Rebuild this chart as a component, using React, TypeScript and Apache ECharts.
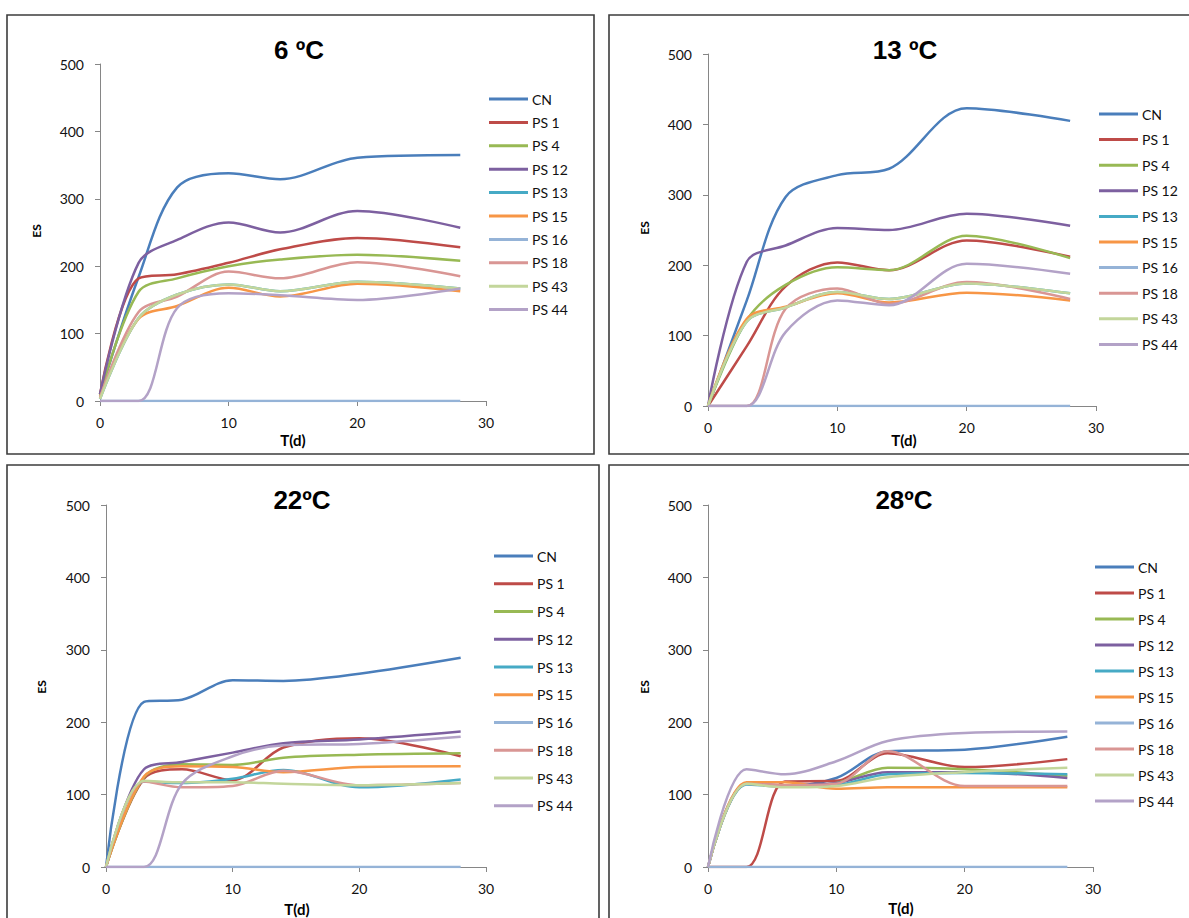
import React, { useEffect, useRef } from "react";
import * as echarts from "echarts";

// Sampling days (x values)
const DAYS = [0, 3, 6, 10, 14, 20, 28];
const NAMES = ["CN", "PS 1", "PS 4", "PS 12", "PS 13", "PS 15", "PS 16", "PS 18", "PS 43", "PS 44"];
const COLORS = ["#4A7EBB", "#BE4B48", "#98B954", "#7D60A0", "#46AAC5", "#F79646", "#95B3D7", "#D99694", "#C3D69B", "#B3A2C7"];
const TITLES = ["6 ºC", "13 ºC", "22ºC", "28ºC"];
const X_TICKS = [0, 10, 20, 30];
const Y_TICKS = [0, 100, 200, 300, 400, 500];

// 6 ºC — rows follow NAMES order
const T6 = [
  [10, 184, 317, 338, 329, 361, 365],
  [10, 182, 188, 205, 225, 242, 228],
  [8, 162, 182, 200, 210, 217, 208],
  [10, 205, 239, 265, 250, 282, 257],
  [3, 123, 158, 173, 163, 177, 167],
  [5, 122, 141, 168, 155, 174, 163],
  [0, 0, 0, 0, 0, 0, 0],
  [5, 132, 155, 192, 182, 206, 185],
  [3, 123, 158, 173, 163, 177, 167],
  [0, 0, 138, 160, 157, 150, 167],
];
// 13 ºC
const T13 = [
  [0, 150, 297, 328, 337, 423, 405],
  [0, 85, 170, 204, 193, 235, 212],
  [0, 122, 172, 197, 193, 242, 210],
  [0, 205, 228, 253, 250, 273, 256],
  [0, 120, 140, 162, 152, 174, 160],
  [0, 124, 141, 160, 147, 161, 150],
  [0, 0, 0, 0, 0, 0, 0],
  [0, 0, 138, 167, 145, 176, 152],
  [0, 120, 140, 162, 152, 174, 160],
  [0, 0, 105, 150, 143, 202, 188],
];
// 22ºC
const T22 = [
  [0, 228, 231, 258, 257, 267, 289],
  [0, 122, 135, 120, 165, 178, 153],
  [0, 124, 142, 141, 151, 155, 157],
  [0, 135, 145, 158, 171, 176, 187],
  [0, 118, 116, 122, 134, 110, 121],
  [0, 125, 139, 138, 131, 138, 139],
  [0, 0, 0, 0, 0, 0, 0],
  [0, 118, 110, 112, 133, 113, 116],
  [0, 119, 117, 117, 115, 113, 116],
  [0, 0, 115, 153, 168, 170, 180],
];
// 28ºC
const T28 = [
  [0, 115, 112, 123, 160, 162, 180],
  [0, 0, 118, 119, 157, 138, 149],
  [0, 115, 112, 116, 137, 135, 126],
  [0, 116, 113, 116, 131, 131, 123],
  [0, 114, 111, 113, 128, 130, 128],
  [0, 117, 117, 108, 110, 110, 110],
  [0, 0, 0, 0, 0, 0, 0],
  [0, 115, 113, 115, 160, 112, 112],
  [0, 115, 110, 112, 124, 131, 137],
  [0, 135, 128, 146, 174, 185, 187],
];
const PANELS = [T6, T13, T22, T28];

const FONT = "Lato, 'Open Sans', sans-serif";
const TITLE_FONT = "'Liberation Sans', Arial, sans-serif";

// layout per panel
const LAYOUT = [
  { grid: { left: 100, top: 64, width: 386, height: 337 }, box: [7, 15, 587, 439], title: [299, 50], tname: [293, 440], es: [36, 231], legend: { left: 489, top: 91, gap: 7.4 } },
  { grid: { left: 708, top: 54, width: 388, height: 352 }, box: [609, 15, 600, 439], title: [905, 50], tname: [904, 440], es: [644, 228], legend: { left: 1099, top: 106, gap: 9.6 } },
  { grid: { left: 106, top: 505, width: 380, height: 362 }, box: [7, 465, 592, 470], title: [302, 500], tname: [297, 909], es: [41, 687], legend: { left: 494, top: 548, gap: 11.75 } },
  { grid: { left: 708, top: 505, width: 385, height: 362 }, box: [609, 465, 600, 470], title: [904, 500], tname: [901, 908], es: [644, 687], legend: { left: 1095, top: 559, gap: 10 } },
];

export default function App() {
  const ref = useRef<HTMLDivElement>(null);
  useEffect(() => {
    if (!ref.current) return;
    const chart = echarts.init(ref.current, null, { renderer: "svg" });
    const grids: any[] = [];
    const xAxes: any[] = [];
    const yAxes: any[] = [];
    const series: any[] = [];
    const legends: any[] = [];
    const graphics: any[] = [];
    LAYOUT.forEach((L, p) => {
      grids.push({ ...L.grid, containLabel: false });
      const axisCommon = {
        axisLine: { show: true, lineStyle: { color: "#868686", width: 1 } },
        axisTick: { show: true, inside: false, length: 5, lineStyle: { color: "#868686" } },
        splitLine: { show: false },
      };
      xAxes.push({
        type: "value", gridIndex: p, min: X_TICKS[0], max: X_TICKS[X_TICKS.length - 1], interval: 10,
        ...axisCommon,
        axisLabel: { margin: 14, color: "#111", fontSize: 14, fontFamily: FONT },
      });
      yAxes.push({
        type: "value", gridIndex: p, min: Y_TICKS[0], max: Y_TICKS[Y_TICKS.length - 1], interval: 100,
        ...axisCommon,
        axisLabel: { margin: 16, color: "#111", fontSize: 14, fontFamily: FONT },
      });
      PANELS[p].forEach((vals, i) => {
        series.push({
          type: "line", name: NAMES[i], xAxisIndex: p, yAxisIndex: p,
          data: DAYS.map((d, k) => [d, vals[k]]),
          smooth: 0.33, showSymbol: false, symbol: "none",
          lineStyle: { width: 2.5, color: COLORS[i] },
          itemStyle: { color: COLORS[i] },
          z: 2 + i,
        });
      });
      legends.push({
        data: NAMES, orient: "vertical", left: L.legend.left, top: L.legend.top, padding: 0,
        icon: "rect", itemWidth: 39, itemHeight: 3, itemGap: L.legend.gap, selectedMode: false,
        textStyle: { fontSize: 14, fontFamily: FONT, color: "#111", lineHeight: 16, padding: [0, 0, 0, -1] },
      });
      graphics.push({
        type: "rect", shape: { x: L.box[0], y: L.box[1], width: L.box[2], height: L.box[3] },
        style: { fill: "none", stroke: "#3c3c3c", lineWidth: 1.6 }, z: 0,
      });
      graphics.push({
        type: "text", x: L.title[0], y: L.title[1],
        style: { text: TITLES[p], font: `bold 26px ${TITLE_FONT}`, fill: "#000", textAlign: "center", textVerticalAlign: "middle" },
      });
      graphics.push({
        type: "text", x: L.tname[0], y: L.tname[1],
        style: { text: "T(d)", font: `bold 15px ${FONT}`, fill: "#000", textAlign: "center", textVerticalAlign: "middle" },
      });
      graphics.push({
        type: "text", x: L.es[0], y: L.es[1], rotation: Math.PI / 2,
        style: { text: "ES", font: `bold 12px ${FONT}`, fill: "#000", textAlign: "center", textVerticalAlign: "middle" },
      });
    });
    chart.setOption({
      animation: false,
      backgroundColor: "#fff",
      grid: grids,
      xAxis: xAxes,
      yAxis: yAxes,
      legend: legends,
      series,
      graphic: graphics,
    });
    return () => chart.dispose();
  }, []);
  return <div ref={ref} style={{ position: "absolute", left: 0, top: 0, width: 1189, height: 918 }} />;
}
